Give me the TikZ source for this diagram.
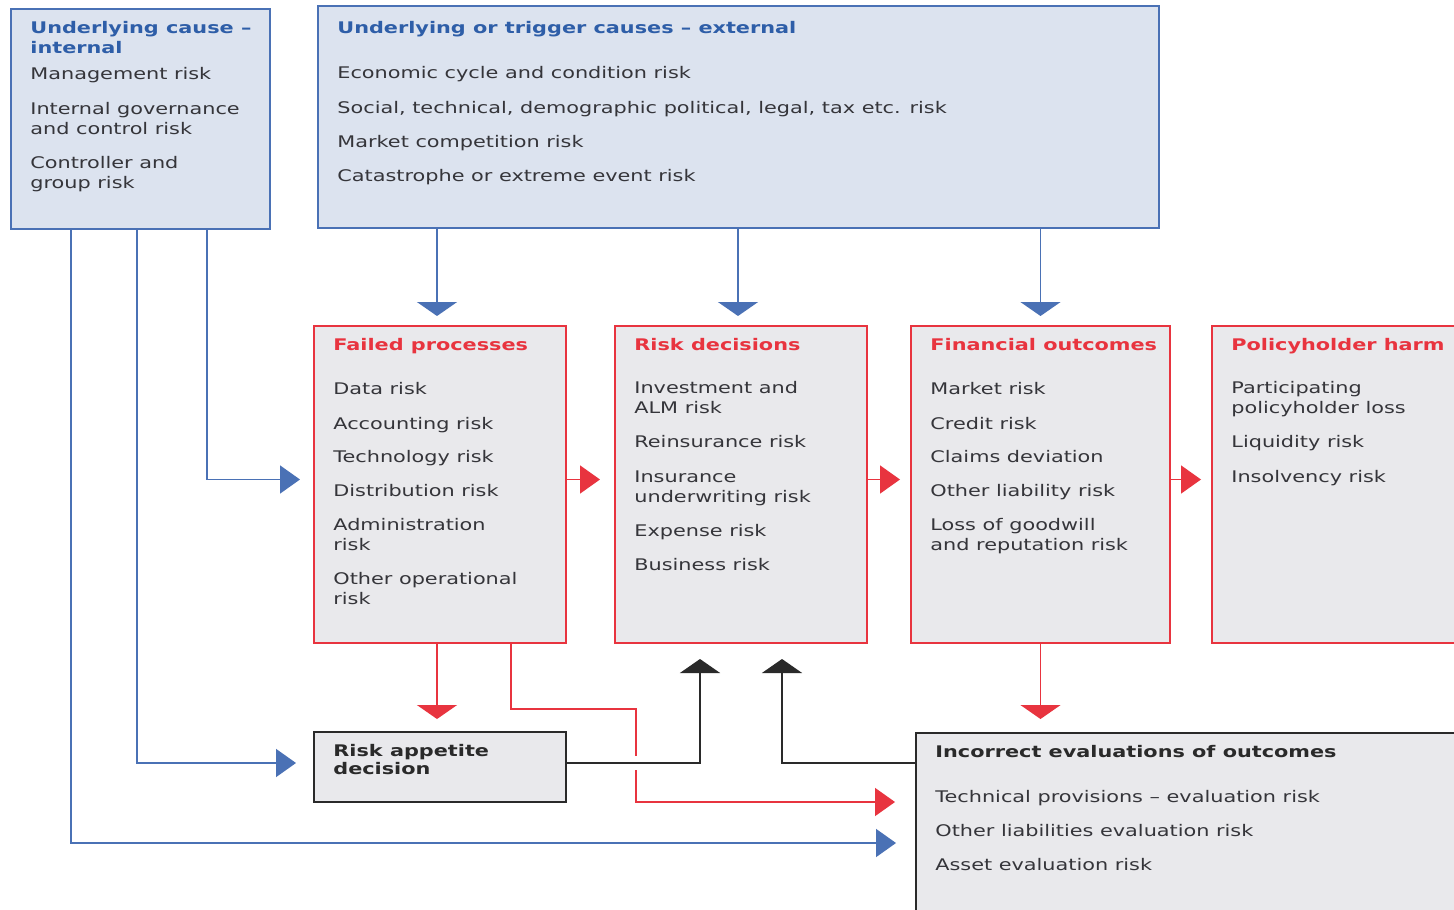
\documentclass[tikz,border=0pt]{standalone}
\usepackage{fontspec}
\setmainfont{DejaVu Sans}[FakeStretch=1.3]
\usetikzlibrary{arrows.meta,calc}

\definecolor{capblue}{HTML}{4A71B5}
\definecolor{capfill}{HTML}{DCE3EF}
\definecolor{titblue}{HTML}{2E5EA8}
\definecolor{harmred}{HTML}{E8343F}
\definecolor{boxgray}{HTML}{E9E9EC}
\definecolor{itemgray}{HTML}{35353A}
\definecolor{darkline}{HTML}{2A2A2A}

\newcommand{\bluetitle}[1]{{\bfseries\color{titblue}#1}}
\newcommand{\redtitle}[1]{{\bfseries\color{harmred}#1}}
\newcommand{\darktitle}[1]{{\bfseries\color{darkline}#1}}

\tikzset{
  downtip/.tip={Triangle[width=20pt,length=7pt]},
  sidetip/.tip={Triangle[width=14pt,length=10pt]},
  causebox/.style={draw=capblue,fill=capfill,line width=1pt,anchor=north west,inner sep=0pt},
  riskbox/.style={draw=harmred,fill=boxgray,line width=1pt,anchor=north west,inner sep=0pt},
  evalbox/.style={draw=darkline,fill=boxgray,line width=1pt,anchor=north west,inner sep=0pt},
  boxtext/.style={anchor=north west,align=left,inner xsep=10pt,inner ysep=6.5pt,
    text=itemgray,font=\fontsize{8pt}{10pt}\selectfont},
  blueline/.style={draw=capblue,line width=0.8pt},
  redline/.style={draw=harmred,line width=0.8pt},
  blackline/.style={draw=darkline,line width=0.8pt},
}

\begin{document}
\begin{tikzpicture}[x=0.5pt,y=-0.5pt]
\clip (0,0) rectangle (1454,909);
\fill[white] (0,0) rectangle (1454,909);

% causes
\node[causebox,minimum width=129.5pt,minimum height=110pt] (int) at (10,8) {};
\node[boxtext] (inttxt) at (int.north west) {\bluetitle{Underlying cause –}\\\bluetitle{internal}\\[3pt]
  Management risk\\[7.5pt]Internal governance\\and control risk\\[7pt]Controller and\\group risk};

\node[causebox,minimum width=420.5pt,minimum height=111pt] (ext) at (317,5) {};
\node[boxtext,inner ysep=8pt] (exttxt) at (ext.north west) {\bluetitle{Underlying or trigger causes – external}\\[12.5pt]
  Economic cycle and condition risk\\[7.5pt]Social, technical, demographic political, legal, tax etc. risk\\[7pt]
  Market competition risk\\[7pt]Catastrophe or extreme event risk};

% risk chain
\node[riskbox,minimum width=126pt,minimum height=158.5pt] (fail) at (313,325) {};
\node[boxtext] (failtxt) at (fail.north west) {\redtitle{Failed processes}\\[12pt]
  Data risk\\[7.5pt]Accounting risk\\[6.5pt]Technology risk\\[7pt]Distribution risk\\[7pt]
  Administration\\risk\\[7pt]Other operational\\risk};

\node[riskbox,minimum width=126pt,minimum height=158.5pt] (dec) at (614,325) {};
\node[boxtext] (dectxt) at (dec.north west) {\redtitle{Risk decisions}\\[11.5pt]
  Investment and\\ALM risk\\[7pt]Reinsurance risk\\[7.5pt]Insurance\\underwriting risk\\[7pt]
  Expense risk\\[7pt]Business risk};

\node[riskbox,minimum width=129.5pt,minimum height=158.5pt] (fin) at (910,325) {};
\node[boxtext] (fintxt) at (fin.north west) {\redtitle{Financial outcomes}\\[12pt]
  Market risk\\[7.5pt]Credit risk\\[6.5pt]Claims deviation\\[7pt]Other liability risk\\[7pt]
  Loss of goodwill\\and reputation risk};

\node[riskbox,minimum width=150pt,minimum height=158.5pt] (pol) at (1211,325) {};
\node[boxtext] (poltxt) at (pol.north west) {\redtitle{Policyholder harm}\\[11.5pt]
  Participating\\policyholder loss\\[7pt]Liquidity risk\\[7.5pt]Insolvency risk};

% evaluation
\node[evalbox,minimum width=126pt,minimum height=35pt] (app) at (313,731) {};
\node[boxtext] (apptxt) at (app.north west) {\darktitle{Risk appetite}\\[-1pt]\darktitle{decision}};

\node[evalbox,minimum width=300pt,minimum height=125pt] (ine) at (915,732) {};
\node[boxtext] (inetxt) at (ine.north west) {\darktitle{Incorrect evaluations of outcomes}\\[12.5pt]
  Technical provisions – evaluation risk\\[7pt]Other liabilities evaluation risk\\[7pt]Asset evaluation risk};

% external causes feed the chain
\foreach \b/\dx in {fail/-3,dec/-3,fin/0}
  \draw[blueline,-downtip,shorten >=4.5pt] ($(\b.north |- ext.south)+(\dx,0)$) -- ($(\b.north)+(\dx,0)$);

% internal causes
\draw[blueline,-sidetip,shorten >=6.5pt] ($(int.south west)+(197,0)$) |- ($(fail.west)+(0,-5)$);
\draw[blueline,-sidetip,shorten >=8.5pt] ($(int.south west)+(127,0)$) |- ($(app.west)+(0,-4)$);
\draw[blueline,-sidetip,shorten >=9.5pt] ($(int.south west)+(61,0)$) |- ($(ine.north west)+(0,111)$);

% red flow
\draw[redline,-sidetip,shorten >=7pt] ($(fail.east)+(0,-5)$) -- ($(dec.west)+(0,-5)$);
\draw[redline,-sidetip,shorten >=5pt] ($(dec.east)+(0,-5)$) -- ($(fin.west)+(0,-5)$);
\draw[redline,-sidetip,shorten >=5pt] ($(fin.east)+(0,-5)$) -- ($(pol.west)+(0,-5)$);
\draw[redline,-downtip,shorten >=6pt] ($(fail.south)+(-3,0)$) -- ($(app.north)+(-3,0)$);
\draw[redline,-downtip,shorten >=6.5pt] (fin.south) -- (fin.south |- ine.north);
\draw[redline,-sidetip,shorten >=10pt] ($(fail.south west)+(198,0)$) |- ++(125,65) |- ($(ine.north west)+(0,70)$);

% black feedback
\draw[white,line width=7pt] ($(app.east)+(60,-4)$) -- ($(app.east)+(82,-4)$);
\draw[blackline,-downtip,shorten >=7.5pt] ($(app.east)+(0,-4)$) -| ($(dec.south)+(-41,0)$);
\draw[blackline,-downtip,shorten >=7.5pt] ($(ine.west |- app.east)+(0,-4)$) -| ($(dec.south)+(41,0)$);

\end{tikzpicture}
\end{document}
